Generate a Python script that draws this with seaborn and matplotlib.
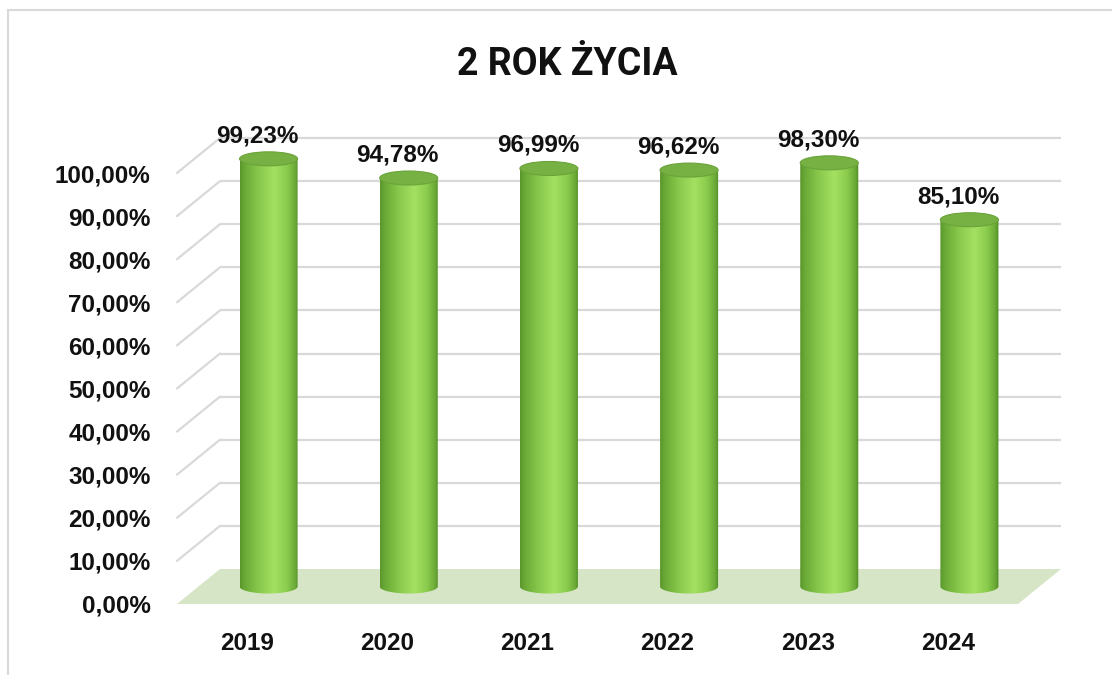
import numpy as np
import matplotlib
matplotlib.use("Agg")
import matplotlib.pyplot as plt
import seaborn as sns
import pandas as pd
from matplotlib.colors import LinearSegmentedColormap
from matplotlib.patches import Ellipse, Polygon, Rectangle, PathPatch
from matplotlib.path import Path
from matplotlib.transforms import offset_copy

# Chart data
years = ["2019", "2020", "2021", "2022", "2023", "2024"]
values = [99.23, 94.78, 96.99, 96.62, 98.30, 85.10]
y_ticks = [0, 10, 20, 30, 40, 50, 60, 70, 80, 90, 100]
title = "2 ROK ŻYCIA"

W, H, DPI = 1112, 675, 100
sns.set_theme(style="white")
plt.rcParams["font.family"] = ["Liberation Sans", "DejaVu Sans"]

fig = plt.figure(figsize=(W / DPI, H / DPI), dpi=DPI)
fig.patch.set_facecolor("white")

# front plane of the plot area (pixels measured from the top-left)
left_px, right_px, top_px, bottom_px = 177, 1018, 173, 604
ax = fig.add_axes([left_px / W, 1 - bottom_px / H,
                   (right_px - left_px) / W, (bottom_px - top_px) / H])
ax.set_facecolor("none")

df = pd.DataFrame({"year": years, "value": values})
bar_w = 0.414
sns.barplot(data=df, x="year", y="value", width=bar_w, ax=ax,
            color="#8cc84b", saturation=1, errorbar=None, zorder=3)

n = len(years)
ax.set_xlim(-0.5, n - 0.5)
ax.set_ylim(0, 100)

# 3-D depth of the floor / back wall
DEPTH_X, DEPTH_Y = 43, 35          # pixels
px_per_cat = (right_px - left_px) / n
px_per_pct = (bottom_px - top_px) / 100
dx = DEPTH_X / px_per_cat
dy = DEPTH_Y / px_per_pct

grid_c = "#d9d9d9"
for t in y_ticks[1:]:
    ax.plot([-0.5 + dx, n - 0.5 + dx], [t + dy, t + dy], color=grid_c,
            lw=1.6, clip_on=False, zorder=1, solid_capstyle="butt")
    ax.plot([-0.5, -0.5 + dx], [t, t + dy], color=grid_c,
            lw=1.6, clip_on=False, zorder=1)

floor = Polygon([(-0.5, 0), (n - 0.5, 0), (n - 0.5 + dx, dy), (-0.5 + dx, dy)],
                closed=True, fc="#d5e5c5", ec="none", clip_on=False, zorder=2)
ax.add_patch(floor)

# cylinders stand in the middle of the depth
mid_tr = offset_copy(ax.transData, fig=fig, x=DEPTH_X / 2, y=DEPTH_Y / 2,
                     units="dots")
ell_h = 14 / px_per_pct

body_cmap = LinearSegmentedColormap.from_list(
    "cyl", [(0.0, "#5a962c"), (0.08, "#6aa936"), (0.3, "#86c64a"),
            (0.58, "#a4e162"), (0.8, "#8acb4d"), (0.94, "#6aa936"),
            (1.0, "#4f8a24")])
grad = np.linspace(0, 1, 256)[None, :]

bars = [p for p in ax.patches if isinstance(p, Rectangle)]
for bar in bars:
    x0 = bar.get_x()
    w = bar.get_width()
    v = bar.get_height()
    xc = x0 + w / 2
    bar.set_transform(mid_tr)
    bar.set_alpha(0)

    # silhouette: straight sides with a rounded bottom
    tt = np.linspace(np.pi, 2 * np.pi, 60)
    arc = np.column_stack([xc + w / 2 * np.cos(tt), ell_h / 2 * np.sin(tt)])
    verts = np.vstack([[x0, v], [x0, 0], arc, [x0 + w, 0], [x0 + w, v], [x0, v]])
    codes = [Path.MOVETO] + [Path.LINETO] * (len(verts) - 2) + [Path.CLOSEPOLY]
    sil = PathPatch(Path(verts, codes), fc="none", ec="none",
                    transform=mid_tr, clip_on=False)
    ax.add_patch(sil)

    im = ax.imshow(grad, cmap=body_cmap, aspect="auto",
                   extent=[x0, x0 + w, -ell_h, v], zorder=3,
                   interpolation="bilinear")
    im.set_transform(mid_tr)
    im.set_clip_path(sil)
    im.set_clip_box(fig.bbox)

    top = Ellipse((xc, v), w, ell_h, transform=mid_tr, fc="#77b143",
                  ec="#6aa33a", lw=0.8, clip_on=False, zorder=4)
    ax.add_patch(top)

    label = f"{v:.2f}".replace(".", ",") + "%"
    ax.annotate(label, xy=(xc, v), xycoords=mid_tr,
                xytext=(-11 * 0.72, 23 * 0.72), textcoords="offset points",
                ha="center", va="center", fontsize=17.5, fontweight="bold",
                color="#111111", annotation_clip=False, zorder=5)

ax.set_xlim(-0.5, n - 0.5)
ax.set_ylim(0, 100)

ax.set_yticks(y_ticks)
ax.set_yticklabels([f"{t:.2f}".replace(".", ",") + "%" for t in y_ticks])
ax.set_xlabel("")
ax.set_ylabel("")
ax.tick_params(axis="y", length=0, pad=19, labelsize=17.5, labelcolor="#111111")
ax.tick_params(axis="x", length=0, pad=20, labelsize=17.5, labelcolor="#111111")
for lab in ax.get_xticklabels() + ax.get_yticklabels():
    lab.set_fontweight("bold")
for s in ax.spines.values():
    s.set_visible(False)
ax.grid(False)

fig.text(567 / W, 1 - 75 / H, title, ha="center", va="baseline",
         fontsize=27, fontweight="bold", family=["Roboto", "DejaVu Sans"],
         color="#111111")

# chart-area border
fig.add_artist(Rectangle((8 / W, -0.1), 1.2, (1 - 10 / H) + 0.1,
                         transform=fig.transFigure, fill=False,
                         ec="#d9d9d9", lw=1.5))

fig.savefig("out.png", dpi=DPI, facecolor="white")
